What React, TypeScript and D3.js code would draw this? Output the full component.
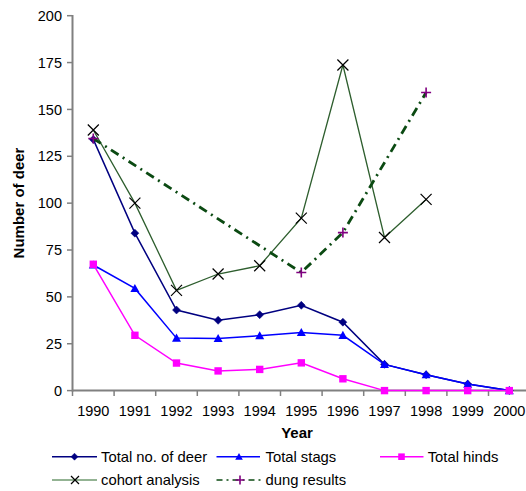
import React from "react";
import * as d3 from "d3";

const years = ["1990","1991","1992","1993","1994","1995","1996","1997","1998","1999","2000"];
const totalDeer = [134, 84, 43, 37.5, 40.5, 45.5, 36.5, 14, 8.5, 3.5, 0];
const totalStags = [67, 54.5, 28, 27.8, 29.3, 31, 29.5, 14, 8.5, 3.5, 0];
const totalHinds = [67.4, 29.5, 14.7, 10.5, 11.3, 14.8, 6.3, 0, 0, 0, 0];
const cohort: (number | null)[] = [139, 100, 53.5, 62.2, 66.6, 92, 173.7, 81.7, 102, null, null];
const dung: (number | null)[] = [134.5, null, null, null, null, 63, 84.3, null, 159, null, null];
const yTicks = [0, 25, 50, 75, 100, 125, 150, 175, 200];

const W = 526, H = 491;
const FONT = "Arial, 'Liberation Sans', sans-serif";

export default function App() {
  const x = d3.scaleBand<string>().domain(years).range([72.5, 72.5 + 11 * 41.6]);
  const cx = (yr: string) => (x(yr) as number) + x.bandwidth() / 2;
  const y = d3.scaleLinear().domain([0, 200]).range([390.6, 15.7]);

  const toPts = (arr: (number | null)[]) =>
    arr.map((v, i) => (v == null ? null : ([cx(years[i]), y(v)] as [number, number]))).filter(Boolean) as [number, number][];

  const line = d3.line<[number, number]>().x(d => d[0]).y(d => d[1]);

  const deerPts = toPts(totalDeer);
  const stagPts = toPts(totalStags);
  const hindPts = toPts(totalHinds);
  const cohortPts = toPts(cohort);
  const dungPts = toPts(dung);

  const diamond = (px: number, py: number, k: string, s = 4) => (
    <path key={k} d={`M${px},${py - s}L${px + s},${py}L${px},${py + s}L${px - s},${py}Z`} fill="#000080" stroke="#000080" strokeWidth={0.5} />
  );
  const triangle = (px: number, py: number, k: string, s = 4.5) => (
    <path key={k} d={`M${px},${py - s}L${px + s},${py + s * 0.8}L${px - s},${py + s * 0.8}Z`} fill="#0000FF" />
  );
  const square = (px: number, py: number, k: string, s = 3.7) => (
    <rect key={k} x={px - s} y={py - s} width={2 * s} height={2 * s} fill="#FF00FF" />
  );
  const cross = (px: number, py: number, k: string, s = 5.5) => (
    <path key={k} d={`M${px - s},${py - s}L${px + s},${py + s}M${px - s},${py + s}L${px + s},${py - s}`} stroke="#000" strokeWidth={1.2} fill="none" />
  );
  const plus = (px: number, py: number, k: string, s = 5) => (
    <path key={k} d={`M${px - s},${py}L${px + s},${py}M${px},${py - s}L${px},${py + s}`} stroke="#800080" strokeWidth={1.6} fill="none" />
  );

  const axisColor = "#808080";
  const xBoundaries = d3.range(years.length + 1).map(i => 72.5 + i * x.bandwidth());

  return (
    <svg width={W} height={H} style={{ position: "absolute", left: 0, top: 0, background: "#fff" }} fontFamily={FONT}>
      {/* axes */}
      <line x1={72.5} x2={72.5} y1={15} y2={391.5} stroke={axisColor} strokeWidth={2} />
      <line x1={72} x2={W} y1={390.6} y2={390.6} stroke={axisColor} strokeWidth={2} />
      {yTicks.map(t => (
        <g key={t}>
          <line x1={67} x2={72.5} y1={y(t)} y2={y(t)} stroke={axisColor} strokeWidth={1.5} />
          <text x={62} y={y(t)} dy="0.35em" textAnchor="end" fontSize={14.5} fill="#000">{t}</text>
        </g>
      ))}
      {xBoundaries.map((bx, i) => (
        <line key={i} x1={bx} x2={bx} y1={390.6} y2={396} stroke={axisColor} strokeWidth={1.5} />
      ))}
      {years.map(yr => (
        <text key={yr} x={cx(yr)} y={410.7} dy="0.35em" textAnchor="middle" fontSize={14.5} fill="#000">{yr}</text>
      ))}
      <text x={297} y={433} dy="0.35em" textAnchor="middle" fontSize={15} fontWeight="bold">Year</text>
      <text transform={`translate(19,203) rotate(-90)`} dy="0.35em" textAnchor="middle" fontSize={15} fontWeight="bold">Number of deer</text>

      {/* series */}
      <path d={line(deerPts) || ""} fill="none" stroke="#000080" strokeWidth={1.5} />
      {deerPts.map((p, i) => diamond(p[0], p[1], "d" + i))}
      <path d={line(stagPts) || ""} fill="none" stroke="#0000FF" strokeWidth={1.5} />
      {stagPts.map((p, i) => triangle(p[0], p[1], "s" + i))}
      <path d={line(hindPts) || ""} fill="none" stroke="#FF00FF" strokeWidth={1.5} />
      {hindPts.map((p, i) => square(p[0], p[1], "h" + i))}
      <path d={line(cohortPts) || ""} fill="none" stroke="#2e5e2e" strokeWidth={1.3} />
      {cohortPts.map((p, i) => cross(p[0], p[1], "c" + i))}
      <path d={line(dungPts) || ""} fill="none" stroke="#0b4a12" strokeWidth={2.8} strokeDasharray="9,5,2,5" />
      {dungPts.map((p, i) => plus(p[0], p[1], "g" + i))}

      {/* legend */}
      <g fontSize={14.8}>
        <line x1={52} x2={97} y1={456.7} y2={456.7} stroke="#000080" strokeWidth={1.5} />
        {diamond(74.5, 456.7, "ld", 3.5)}
        <text x={101} y={456.7} dy="0.35em">Total no. of deer</text>

        <line x1={216.5} x2={260} y1={456.7} y2={456.7} stroke="#0000FF" strokeWidth={1.5} />
        {triangle(239, 456.7, "ls", 3.8)}
        <text x={265.5} y={456.7} dy="0.35em">Total stags</text>

        <line x1={380} x2={423.5} y1={456.7} y2={456.7} stroke="#FF00FF" strokeWidth={1.5} />
        {square(401.5, 456.7, "lh", 3.3)}
        <text x={427.7} y={456.7} dy="0.35em">Total hinds</text>

        <line x1={52} x2={97} y1={480} y2={480} stroke="#6f9a6f" strokeWidth={1.5} />
        {cross(75, 480, "lc", 4)}
        <text x={101} y={480} dy="0.35em">cohort analysis</text>

        <line x1={216.5} x2={262} y1={480} y2={480} stroke="#0b4a12" strokeWidth={1.3} strokeDasharray="6,4,2,4" />
        {plus(240, 480, "lg", 4.5)}
        <text x={265.5} y={480} dy="0.35em">dung results</text>
      </g>
    </svg>
  );
}
